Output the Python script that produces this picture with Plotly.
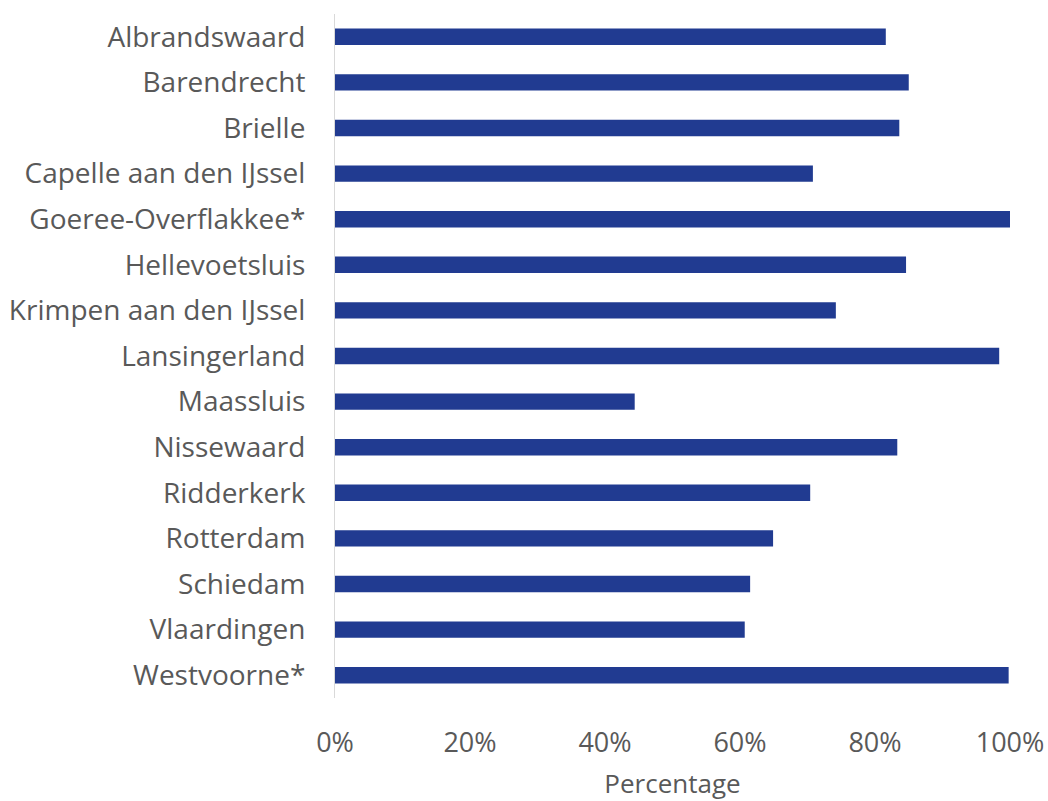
import plotly.graph_objects as go

gemeenten = ["Albrandswaard", "Barendrecht", "Brielle", "Capelle aan den IJssel",
             "Goeree-Overflakkee*", "Hellevoetsluis", "Krimpen aan den IJssel",
             "Lansingerland", "Maassluis", "Nissewaard", "Ridderkerk", "Rotterdam",
             "Schiedam", "Vlaardingen", "Westvoorne*"]
percentage = [0.816, 0.85, 0.836, 0.708, 1.0, 0.846, 0.742, 0.984, 0.444,
              0.833, 0.704, 0.649, 0.615, 0.607, 0.998]
tick_vals = [0, 0.2, 0.4, 0.6, 0.8, 1.0]
tick_text = ["0%", "20%", "40%", "60%", "80%", "100%"]

FONT = "Open Sans, sans-serif"

fig = go.Figure(go.Bar(
    x=percentage, y=gemeenten, orientation="h",
    marker=dict(color="#213B91", line=dict(width=0)),
    width=0.36,
))

fig.update_layout(
    width=1048, height=801,
    margin=dict(l=335, r=38, t=14, b=103),
    paper_bgcolor="white", plot_bgcolor="white",
    font=dict(family=FONT, color="#595959", size=27),
    showlegend=False,
)
fig.update_yaxes(
    autorange="reversed", showgrid=False,
    showline=True, linecolor="#d9d9d9", linewidth=1,
    ticks="outside", ticklen=23, tickcolor="rgba(0,0,0,0)",
    tickfont=dict(size=28, color="#595959"),
    automargin=False,
)
fig.update_xaxes(
    range=[0, 1.0], tickvals=tick_vals, ticktext=tick_text,
    showgrid=False, zeroline=False, showline=False,
    ticks="outside", ticklen=21, tickcolor="rgba(0,0,0,0)",
    tickfont=dict(size=27, color="#595959"),
    title=dict(text="Percentage", font=dict(size=26, color="#595959"), standoff=33),
    automargin=False,
)

fig.write_html(
    "out.html",
    config={"displayModeBar": False},
    post_script="document.body.style.margin='0';document.body.style.overflow='hidden';",
)
